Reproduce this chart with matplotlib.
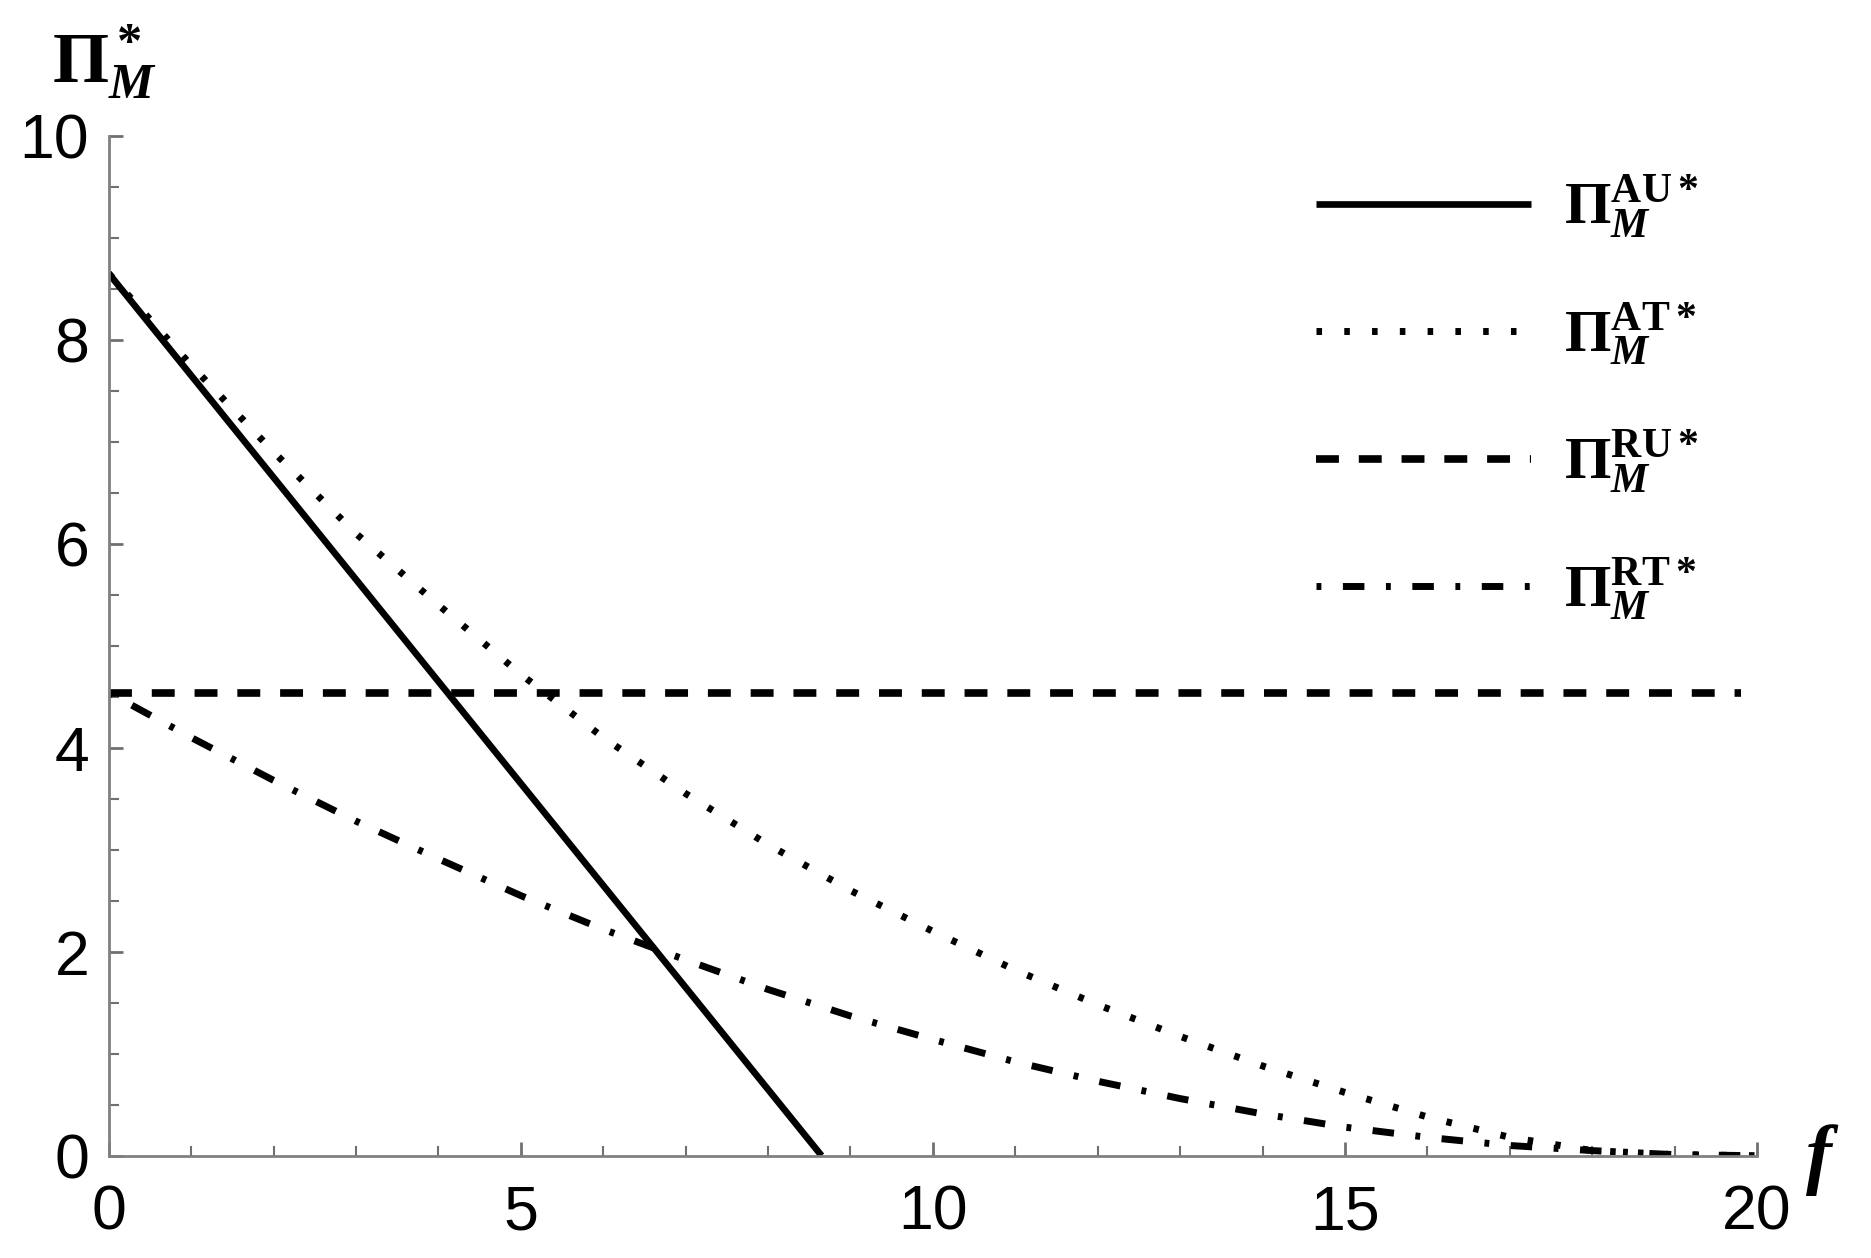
import numpy as np
import matplotlib
matplotlib.use("Agg")
import matplotlib.pyplot as plt
from matplotlib.ticker import MultipleLocator

# fonts: sans for ticks, bold Times-like serif for math labels
plt.rcParams['font.family'] = ['Liberation Sans', 'DejaVu Sans']
plt.rcParams['mathtext.fontset'] = 'custom'
plt.rcParams['mathtext.rm'] = 'Liberation Serif:bold'
plt.rcParams['mathtext.it'] = 'Liberation Serif:italic:bold'
plt.rcParams['mathtext.bf'] = 'Liberation Serif:bold'

# data
f_au = [0, 8.65]
pi_au = [8.65, 0.0]

f_grid = [0, 1, 2, 3, 4, 5, 6, 7, 8, 9, 10, 11, 12, 13, 14, 15, 16, 17, 18, 19, 20]
pi_at = [8.65, 7.75, 6.9, 6.1, 5.4, 4.72, 4.1, 3.55, 3.05, 2.6, 2.2,
         1.82, 1.48, 1.17, 0.88, 0.62, 0.38, 0.18, 0.05, 0.01, 0.0]
pi_rt = [4.54, 4.10, 3.68, 3.28, 2.91, 2.55, 2.22, 1.92, 1.63, 1.37, 1.14,
         0.92, 0.73, 0.56, 0.41, 0.28, 0.18, 0.10, 0.05, 0.01, 0.0]

f_ru = [0, 19.8]
pi_ru = [4.54, 4.54]

labels = [r'$\Pi_M^{\rm AU*}$', r'$\Pi_M^{\rm AT*}$',
          r'$\Pi_M^{\rm RU*}$', r'$\Pi_M^{\rm RT*}$']

W, H = 1871, 1258
fig = plt.figure(figsize=(W / 100, H / 100), dpi=100)
ax = fig.add_axes([108.7 / W, 1 - 1155.7 / H, (1757 - 108.7) / W, (1155.7 - 135.7) / H])

ax.plot(f_au, pi_au, color='black', lw=4.8, solid_capstyle='butt', label=labels[0])
ax.plot(f_grid, pi_at, color='black', lw=5.0, dashes=(0.8, 3.2), label=labels[1])
ax.plot(f_ru, pi_ru, color='black', lw=5.5, dashes=(3, 2.6), label=labels[2])
ax.plot(f_grid, pi_rt, color='black', lw=5.0, dashes=(0.7, 3.1, 3.1, 3.1), label=labels[3])

ax.set_xlim(0, 20)
ax.set_ylim(0, 10)
ax.xaxis.set_major_locator(MultipleLocator(5))
ax.xaxis.set_minor_locator(MultipleLocator(1))
ax.yaxis.set_major_locator(MultipleLocator(2))
ax.yaxis.set_minor_locator(MultipleLocator(0.5))

for side in ['top', 'right']:
    ax.spines[side].set_visible(False)
for side in ['left', 'bottom']:
    ax.spines[side].set_color('#808080')
    ax.spines[side].set_linewidth(2)

ax.tick_params(which='major', direction='in', length=10, width=2, color='#707070',
               labelsize=45, labelcolor='black')
ax.tick_params(which='minor', direction='in', length=7, width=1.5, color='#707070')
ax.tick_params(axis='x', which='major', pad=20)
ax.tick_params(axis='y', which='major', pad=14)

# axis titles placed like the original
fig.text(105 / W, 1 - 62 / H, r'$\Pi_M^*$', fontsize=52, ha='center', va='center')
fig.text(1822 / W, 1 - 1160 / H, r'$f$', fontsize=56, ha='center', va='center')

leg = ax.legend(loc='upper left', bbox_to_anchor=(1316 / W, 1 - 173 / H),
                bbox_transform=fig.transFigure, frameon=False, fontsize=43,
                handlelength=3.6, handletextpad=0.55, labelspacing=1.0,
                borderpad=0, borderaxespad=0)

fig.savefig('out.png', dpi=100)
